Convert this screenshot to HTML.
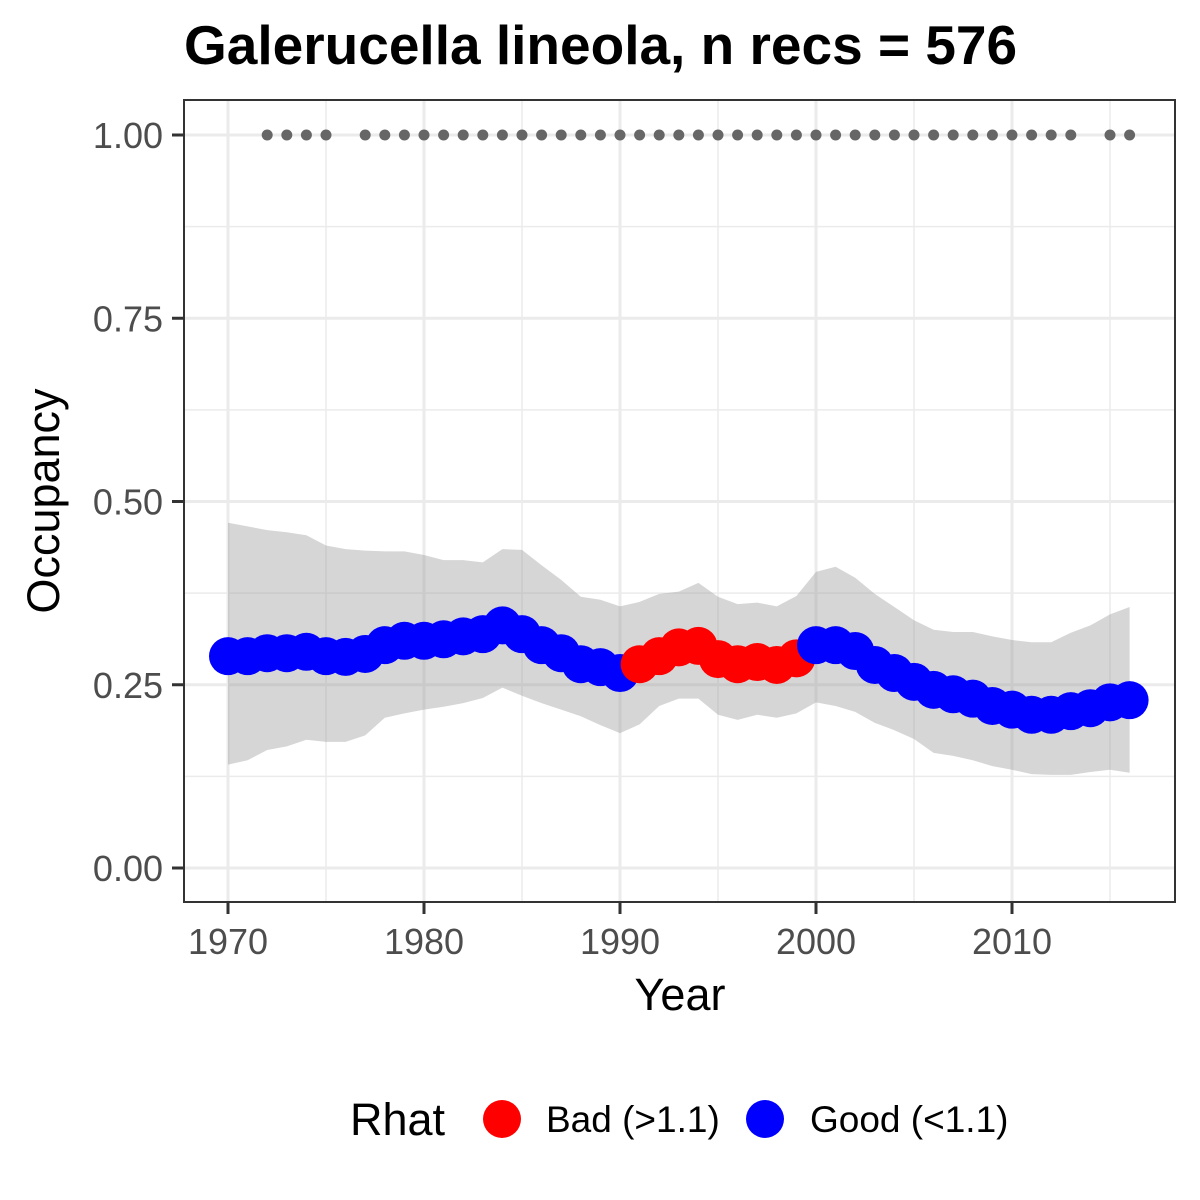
<!DOCTYPE html>
<html><head><meta charset="utf-8"><style>
body{margin:0;background:#fff}
svg{display:block;font-family:"Liberation Sans",Arial,sans-serif}
</style></head><body>
<svg id="chart" width="1200" height="1200" viewBox="0 0 1200 1200">
<rect width="1200" height="1200" fill="#fff"/>
<text x="184" y="64" font-size="55" font-weight="bold" fill="#000">Galerucella lineola, n recs = 576</text>
<g id="grid"></g><g id="band"></g><g id="recs"></g><g id="pts"></g>
<rect x="184" y="100" width="991" height="802" fill="none" stroke="#333" stroke-width="2"/>
<g id="axes"></g>
<text x="680" y="1010" font-size="45" text-anchor="middle" fill="#000">Year</text>
<text transform="translate(59,501) rotate(-90)" font-size="45" text-anchor="middle" fill="#000">Occupancy</text>
<g>
<text x="350" y="1135" font-size="45" fill="#000">Rhat</text>
<circle cx="502" cy="1119" r="19" fill="#ff0000"/>
<text x="546" y="1132" font-size="37" fill="#000">Bad (&gt;1.1)</text>
<circle cx="765" cy="1119" r="19" fill="#0000ff"/>
<text x="810" y="1132" font-size="37" fill="#000">Good (&lt;1.1)</text>
</g>
</svg>
<script>
const years = [1970,1971,1972,1973,1974,1975,1976,1977,1978,1979,1980,1981,1982,1983,1984,1985,1986,1987,1988,1989,1990,1991,1992,1993,1994,1995,1996,1997,1998,1999,2000,2001,2002,2003,2004,2005,2006,2007,2008,2009,2010,2011,2012,2013,2014,2015,2016];
const occupancy = [0.289,0.289,0.293,0.293,0.295,0.289,0.288,0.292,0.304,0.31,0.31,0.312,0.316,0.319,0.331,0.319,0.304,0.293,0.278,0.274,0.266,0.278,0.289,0.301,0.303,0.285,0.278,0.281,0.277,0.286,0.304,0.304,0.296,0.277,0.266,0.254,0.243,0.237,0.231,0.221,0.216,0.209,0.209,0.214,0.218,0.226,0.229];
const upper = [0.471,0.466,0.461,0.458,0.454,0.44,0.435,0.433,0.432,0.432,0.427,0.42,0.42,0.417,0.435,0.434,0.413,0.393,0.37,0.366,0.357,0.363,0.374,0.377,0.389,0.37,0.36,0.362,0.357,0.371,0.404,0.411,0.396,0.374,0.356,0.338,0.325,0.322,0.322,0.316,0.311,0.308,0.308,0.321,0.331,0.346,0.356];
const lower = [0.141,0.147,0.161,0.166,0.175,0.172,0.172,0.181,0.205,0.211,0.216,0.22,0.225,0.232,0.246,0.235,0.225,0.216,0.207,0.195,0.184,0.196,0.221,0.231,0.231,0.209,0.202,0.209,0.205,0.211,0.226,0.221,0.213,0.198,0.188,0.176,0.157,0.153,0.147,0.139,0.134,0.128,0.127,0.127,0.131,0.134,0.13];
const rhat = ["good","good","good","good","good","good","good","good","good","good","good","good","good","good","good","good","good","good","good","good","good","bad","bad","bad","bad","bad","bad","bad","bad","bad","good","good","good","good","good","good","good","good","good","good","good","good","good","good","good","good","good"];
const recordYears = [1972,1973,1974,1975,1977,1978,1979,1980,1981,1982,1983,1984,1985,1986,1987,1988,1989,1990,1991,1992,1993,1994,1995,1996,1997,1998,1999,2000,2001,2002,2003,2004,2005,2006,2007,2008,2009,2010,2011,2012,2013,2015,2016];
const xTicks = [1970,1980,1990,2000,2010];
const yTicks = [0,0.25,0.5,0.75,1];
const yTickLabels = ["0.00","0.25","0.50","0.75","1.00"];

const NS="http://www.w3.org/2000/svg";
const X = y => 228 + (y-1970)*19.6;
const Y = v => 868 - v*733;
function mk(tag, attrs, parent){const e=document.createElementNS(NS,tag);for(const k in attrs)e.setAttribute(k,attrs[k]);document.getElementById(parent).appendChild(e);return e;}

[1975,1985,1995,2005,2015].forEach(v=>{const e=mk('line',{x1:X(v),x2:X(v),y1:100,y2:902,stroke:'#ebebeb','stroke-width':1.5},'grid');

});
[0.125,0.375,0.625,0.875].forEach(v=>{const e=mk('line',{x1:184,x2:1175,y1:Y(v),y2:Y(v),stroke:'#ebebeb','stroke-width':1.5},'grid');

});
xTicks.forEach(v=>{const e=mk('line',{x1:X(v),x2:X(v),y1:100,y2:902,stroke:'#ebebeb','stroke-width':3},'grid');

});
yTicks.forEach(v=>{const e=mk('line',{x1:184,x2:1175,y1:Y(v),y2:Y(v),stroke:'#ebebeb','stroke-width':3},'grid');

});

let d='';years.forEach((y,i)=>{d+=(i?'L':'M')+X(y)+','+Y(upper[i]);});
for(let i=years.length-1;i>=0;i--)d+='L'+X(years[i])+','+Y(lower[i]);
const band=mk('path',{d:d+'Z',fill:'#999','fill-opacity':0.4},'band');



recordYears.forEach(y=>{const e=mk('circle',{cx:X(y),cy:Y(1),r:5.5,fill:'#666'},'recs');

});

years.forEach((y,i)=>{const e=mk('circle',{cx:X(y),cy:Y(occupancy[i]),r:19,fill:rhat[i]==='bad'?'#ff0000':'#0000ff'},'pts');

});

xTicks.forEach(v=>{const t=mk('line',{x1:X(v),x2:X(v),y1:902,y2:914,stroke:'#333','stroke-width':3},'axes');


const l=mk('text',{x:X(v),y:954,'font-size':36,'text-anchor':'middle',fill:'#4d4d4d'},'axes');l.textContent=v;

});
yTicks.forEach((v,i)=>{const t=mk('line',{x1:172,x2:184,y1:Y(v),y2:Y(v),stroke:'#333','stroke-width':3},'axes');


const l=mk('text',{x:163,y:Y(v)+13,'font-size':36,'text-anchor':'end',fill:'#4d4d4d'},'axes');l.textContent=yTickLabels[i];

});
</script>
</body></html>
